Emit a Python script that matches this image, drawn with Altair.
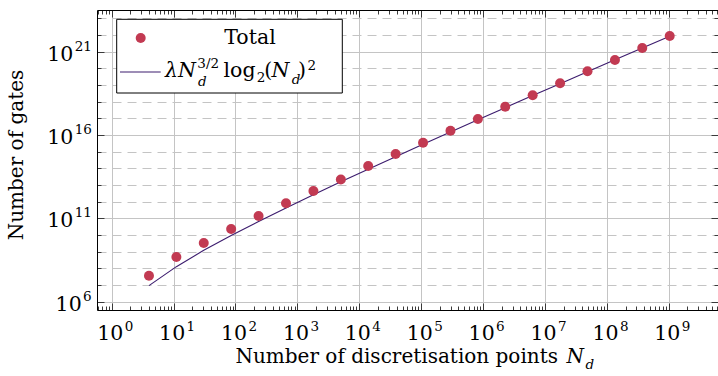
import altair as alt
import pandas as pd

# ---------------- data ----------------
N_d = [4, 11.09, 30.7, 85.1, 236, 655, 1815, 5035, 13930, 38640,
       107150, 297200, 824000, 2.28e6, 6.32e6, 1.754e7, 4.86e7,
       1.349e8, 3.73e8, 1.035e9]
# log10 of the number of gates ("Total" markers)
total_exp = [7.56, 8.68, 9.52, 10.36, 11.14, 11.90, 12.64, 13.33, 14.14, 14.86,
             15.54, 16.26, 16.96, 17.70, 18.38, 19.10, 19.82, 20.50, 21.22, 21.94]
# log10 of the fitted curve  lambda N^{3/2} log2(N)^2
fit_exp = [6.96, 8.10, 9.08, 9.97, 10.81, 11.62, 12.41, 13.19, 13.95, 14.70,
           15.45, 16.18, 16.92, 17.64, 18.37, 19.08, 19.80, 20.51, 21.22, 21.93]

x_decades = [1, 10, 100, 1e3, 1e4, 1e5, 1e6, 1e7, 1e8, 1e9]
x_exp_labels = ["0", "1", "2", "3", "4", "5", "6", "7", "8", "9"]
y_major = [1e6, 1e11, 1e16, 1e21]
y_major_labels = ["6", "11", "16", "21"]

legend_total = "Total"
x_title = "Number of discretisation points"
y_title = "Number of gates"

# ---------------- styling ----------------
FONT = "DejaVu Serif"
RED = "#c23a52"
PURPLE = "#3c1c6e"
GRID = "#c4c4c4"
TICK = "#3a3a3a"
W, H = 621, 300
XDOM = [10 ** -0.2375, 10 ** 9.795]
YDOM = [10 ** 5.5, 10 ** 23.5]

x_ticks = sorted(m * 10.0 ** k for k in range(-1, 10) for m in range(1, 10)
                 if XDOM[0] <= m * 10.0 ** k <= XDOM[1])
y_ticks = [10.0 ** k for k in range(6, 24)]

df = pd.DataFrame({
    "N": N_d,
    "total": [10 ** e for e in total_exp],
    "fit": [10 ** e for e in fit_exp],
})

xs = alt.Scale(type="log", domain=XDOM, nice=False)
ys = alt.Scale(type="log", domain=YDOM, nice=False)

is_decade = "abs(log(datum.value)/LN10 - round(log(datum.value)/LN10)) < 0.001"
is_ymajor = "round(log(datum.value)/LN10) % 5 == 1"
x_tick_size = {"condition": {"test": is_decade, "value": 7}, "value": 4}
y_tick_size = {"condition": {"test": is_ymajor, "value": 7}, "value": 4}
grid_dash = {"condition": {"test": is_ymajor, "value": []}, "value": [9, 6]}

tick_axis = dict(tickColor=TICK, tickWidth=1, labels=False, grid=False, title=None,
                 domainColor="black", domainWidth=1)

# fitted curve (also carries inward ticks + frame at bottom / left)
line = alt.Chart(df).mark_line(color=PURPLE, strokeWidth=1.1).encode(
    x=alt.X("N:Q", scale=xs, axis=alt.Axis(
        orient="top", offset=-H, values=x_ticks, tickSize=x_tick_size,
        domain=True, **tick_axis)),
    y=alt.Y("fit:Q", scale=ys, axis=alt.Axis(
        orient="right", offset=-W, values=y_ticks, tickSize=y_tick_size,
        domain=True, **tick_axis)),
)

# markers (carry the grid)
points = alt.Chart(df).mark_circle(size=100, color=RED, opacity=1).encode(
    x=alt.X("N:Q", scale=xs, axis=alt.Axis(
        orient="bottom", values=x_decades, grid=True, gridColor=GRID, gridWidth=1,
        ticks=False, labels=False, domain=False, title=None)),
    y=alt.Y("total:Q", scale=ys, axis=alt.Axis(
        orient="left", values=y_ticks, grid=True, gridColor=GRID, gridWidth=1,
        gridDash=grid_dash, ticks=False, labels=False, domain=False, title=None)),
)

# invisible layer carrying mirrored inward ticks at top / right (+ top frame)
mirror = alt.Chart(df).mark_point(opacity=0).encode(
    x=alt.X("N:Q", scale=xs, axis=alt.Axis(
        orient="bottom", offset=-H, values=x_ticks, tickSize=x_tick_size,
        domain=True, **tick_axis)),
    y=alt.Y("fit:Q", scale=ys, axis=alt.Axis(
        orient="left", offset=-W, values=y_ticks, tickSize=y_tick_size,
        domain=False, **tick_axis)),
)

# ---------------- tick labels 10^k ----------------
xl = pd.DataFrame({"v": x_decades, "e": x_exp_labels})
xl10 = alt.Chart(xl).mark_text(text="10", align="right", baseline="alphabetic", dx=11.6,
                               font=FONT, fontSize=20.5, color="black").encode(
    x=alt.X("v:Q", scale=xs, axis=None), y=alt.value(329.5))
xlexp = alt.Chart(xl).mark_text(align="left", baseline="alphabetic", dx=13.0,
                                font=FONT, fontSize=13.5, color="black").encode(
    x=alt.X("v:Q", scale=xs, axis=None), y=alt.value(321), text="e:N")

yl = pd.DataFrame({"v": y_major, "e": y_major_labels,
                   "nd": [len(s) for s in y_major_labels]})


def ylab(nd, x10, xexp):
    base = alt.Chart(yl).transform_filter(f"datum.nd == {nd}")
    a = base.mark_text(text="10", align="right", baseline="alphabetic", dy=9,
                       font=FONT, fontSize=20.5, color="black").encode(
        x=alt.value(x10), y=alt.Y("v:Q", scale=ys, axis=None))
    b = base.mark_text(align="left", baseline="alphabetic", dy=-1,
                       font=FONT, fontSize=13.5, color="black").encode(
        x=alt.value(xexp), y=alt.Y("v:Q", scale=ys, axis=None), text="e:N")
    return [a, b]


ylabels = ylab(2, -23.7, -22.3) + ylab(1, -15.3, -13.9)

# ---------------- titles ----------------
one = pd.DataFrame({"a": [0]})


def txt(s, x, y, size=20.5, align="left", style="normal", angle=0, baseline="alphabetic"):
    kw = dict(text=s, align=align, baseline=baseline, font=FONT, fontSize=size,
              fontStyle=style, color="black")
    if angle:
        kw["angle"] = angle
    return alt.Chart(one).mark_text(**kw).encode(x=alt.value(x), y=alt.value(y))


titles = [
    txt(x_title, 461, 352.5, size=20, align="right"),
    txt("N", 469.5, 352.5, size=20, style="italic"),
    txt("d", 488.5, 358.5, size=13.5, style="italic"),
    txt(y_title, -80, 145, size=20, align="center", angle=270, baseline="middle"),
]

# ---------------- legend ----------------
legend = [
    alt.Chart(one).mark_rect(fill="white", stroke="black", strokeWidth=1).encode(
        x=alt.value(19.7), x2=alt.value(245.3), y=alt.value(9.3), y2=alt.value(83)),
    alt.Chart(one).mark_circle(size=100, color=RED, opacity=1).encode(
        x=alt.value(43.7), y=alt.value(28)),
    alt.Chart(one).mark_rule(color=PURPLE, strokeWidth=1.1).encode(
        x=alt.value(23), x2=alt.value(63.7), y=alt.value(62)),
    txt(legend_total, 153, 34.3, align="center"),
    txt("λN", 68, 67, style="italic"),
    txt("3/2", 100.3, 58, size=13.5),
    txt("d", 101, 76, size=13.5, style="italic"),
    txt("log", 126.5, 67),
    txt("2", 159.7, 72, size=13.5),
    txt("(", 167.3, 67),
    txt("N", 174.5, 67, style="italic"),
    txt("d", 194.7, 74, size=13.5, style="italic"),
    txt(")", 201, 67),
    txt("2", 210.5, 59.5, size=13.5),
]

chart = alt.layer(line, points, mirror, xl10, xlexp, *ylabels, *titles, *legend).resolve_axis(
    x="independent", y="independent"
).properties(
    width=W, height=H,
    padding={"left": 97, "top": 10, "right": 0, "bottom": 66},
    autosize=alt.AutoSizeParams(type="none"),
    background="white",
).configure_view(stroke=None)

chart.save("out.html", embed_options={"renderer": "svg", "actions": False})
